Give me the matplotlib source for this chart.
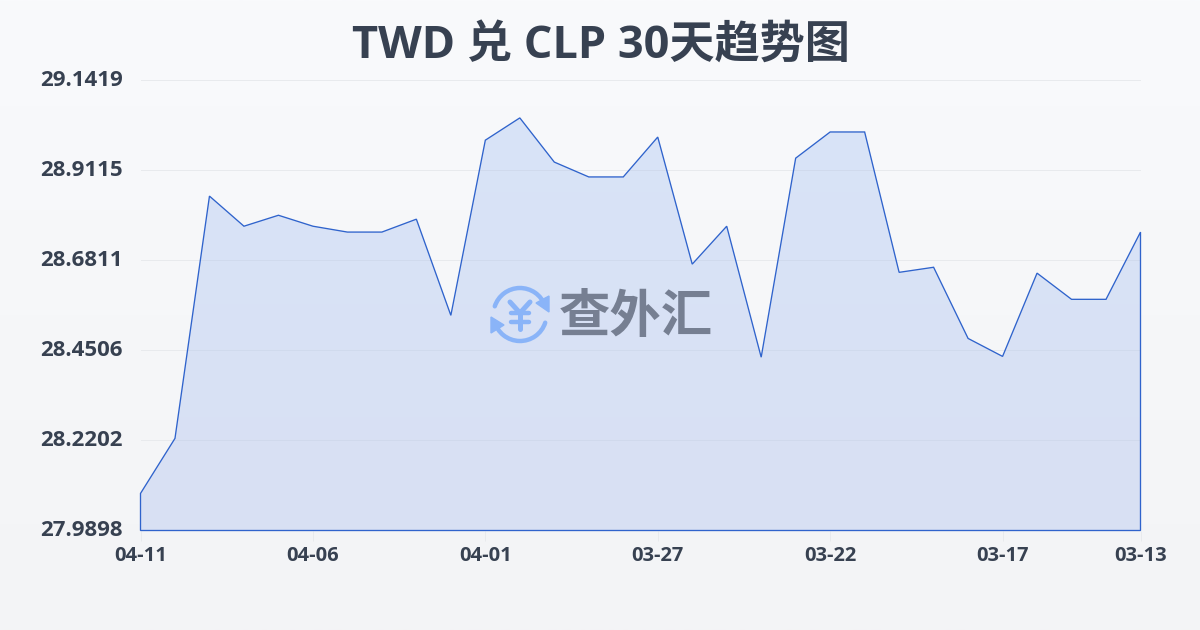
import numpy as np
import matplotlib
matplotlib.use("Agg")
import matplotlib.pyplot as plt
from matplotlib.patches import Arc, Polygon
from matplotlib.colors import LinearSegmentedColormap
from matplotlib.transforms import ScaledTranslation

plt.rcParams['font.family'] = ['Open Sans', 'Noto Sans CJK SC', 'DejaVu Sans']

title = "TWD 兑 CLP 30天趋势图"
dates = ["04-11","04-10","04-09","04-08","04-07","04-06","04-05","04-04","04-03","04-02",
         "04-01","03-31","03-30","03-29","03-28","03-27","03-26","03-25","03-24","03-23",
         "03-22","03-21","03-20","03-19","03-18","03-17","03-16","03-15","03-14","03-13"]
rates = [28.0846,28.2254,28.845,28.768,28.796,28.768,28.753,28.753,28.786,28.540,
         28.988,29.045,28.932,28.894,28.894,28.996,28.671,28.768,28.433,28.942,
         29.009,29.009,28.650,28.663,28.481,28.435,28.648,28.581,28.581,28.753]
y_ticks = [27.9898,28.2202,28.4506,28.6811,28.9115,29.1419]
y_labels = ["27.9898","28.2202","28.4506","28.6811","28.9115","29.1419"]
x_tick_idx = [0,5,10,15,20,25,29]

W, H = 1200, 630
fig = plt.figure(figsize=(W/100, H/100), dpi=100)

# background gradient
bg = fig.add_axes([0,0,1,1], zorder=0)
bg.axis('off')
cm_bg = LinearSegmentedColormap.from_list('bg', ['#f9fafc', '#f3f4f6'])
bg.imshow(np.linspace(0,1,256)[:,None], aspect='auto', cmap=cm_bg, extent=[0,1,0,1])

ax = fig.add_axes([140.5/W, 1-530.5/H, 1000/W, 450.5/H], zorder=1)
ax.patch.set_alpha(0)
x = np.arange(len(rates))
ax.set_xlim(0, len(rates)-1)
ax.set_ylim(y_ticks[0], y_ticks[-1])
for s in ax.spines.values():
    s.set_visible(False)
ax.set_yticks(y_ticks)
ax.set_yticklabels(y_labels, fontsize=16, fontweight='bold', color='#374151')
ax.set_xticks(x_tick_idx)
ax.set_xticklabels([dates[i] for i in x_tick_idx], fontsize=14.5, fontweight='bold', color='#374151')
ax.tick_params(axis='y', length=0, pad=13)
ax.tick_params(axis='x', length=7, width=0.7, color='#e8eaed', pad=4)
ax.grid(axis='y', color='#e8eaed', lw=0.7, zorder=1)
ax.set_axisbelow(True)
shift = ScaledTranslation(0, 2/100, fig.dpi_scale_trans)
for lab in ax.get_yticklabels():
    lab.set_verticalalignment('center_baseline')
    lab.set_transform(lab.get_transform() + shift)

# gradient area
poly_xy = np.column_stack([np.r_[x[0], x, x[-1]], np.r_[y_ticks[0], rates, y_ticks[0]]])
cm_fill = LinearSegmentedColormap.from_list('fill', ['#d9e4f8', '#d8e0f3'])
im = ax.imshow(np.linspace(0,1,256)[:,None], aspect='auto', cmap=cm_fill,
               extent=[x[0], x[-1], y_ticks[0], y_ticks[-1]], zorder=2)
clip = Polygon(poly_xy, closed=True, transform=ax.transData, fc='none', ec='none')
ax.add_patch(clip)
im.set_clip_path(clip)
ax.set_xlim(0, len(rates)-1)
ax.set_ylim(y_ticks[0], y_ticks[-1])
ax.add_patch(Polygon(poly_xy, closed=True, fc='none', ec='#2f63cc', lw=0.95, zorder=3, clip_on=False))

# gridlines faintly through the fill
for t in y_ticks[1:-1]:
    gl = ax.axhline(t, color='#cbd5e8', lw=0.7, alpha=0.6, zorder=2.5)
    gl.set_clip_path(clip)

fig.text(600.5/W, 1-46.5/H, title, ha='center', va='center', fontsize=32.5, fontweight='bold', color='#374151')

# watermark in pixel coordinates
ov = fig.add_axes([0,0,1,1], zorder=3)
ov.axis('off'); ov.patch.set_alpha(0)
ov.set_xlim(0,W); ov.set_ylim(H,0)
blue = '#8ab4f8'
cx, cy, r = 520, 314.5, 26.5
ov.add_patch(Arc((cx,cy), 2*r, 2*r, theta1=18, theta2=165, color=blue, lw=3.2, capstyle='round'))
ov.add_patch(Arc((cx,cy), 2*r, 2*r, theta1=198, theta2=340, color=blue, lw=3.2, capstyle='round'))
ov.add_patch(Polygon([(549,296),(549,312),(536,303)], closed=True, fc=blue, ec=blue, lw=1))
ov.add_patch(Polygon([(491,317),(491,333),(504,325)], closed=True, fc=blue, ec=blue, lw=1))
ov.plot([510,520,530],[302,313,302], color=blue, lw=3.6, solid_capstyle='round', solid_joinstyle='miter')
ov.plot([520,520],[313,329], color=blue, lw=3.6, solid_capstyle='round')
ov.plot([511,529],[313,313], color=blue, lw=3.2, solid_capstyle='round')
ov.plot([511,529],[321.5,321.5], color=blue, lw=3.2, solid_capstyle='round')
ov.text(636, 316.5, "查外汇", ha='center', va='center', fontsize=37, fontweight='bold',
        color='#767f92', family=['Noto Sans CJK SC','DejaVu Sans'])

fig.savefig("out.png", dpi=100)
